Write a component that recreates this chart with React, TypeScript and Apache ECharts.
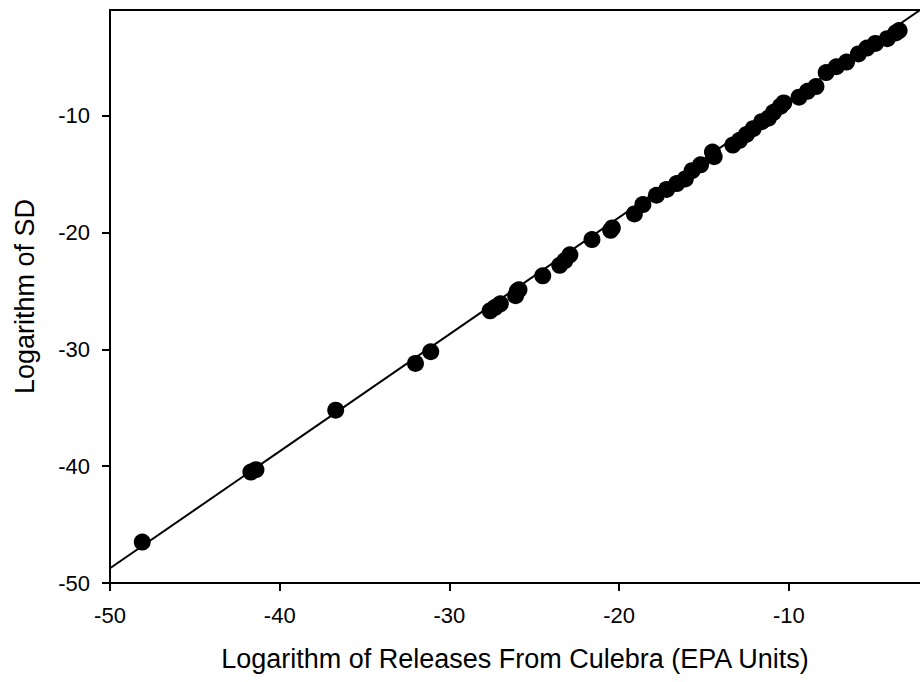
import React, { useEffect, useRef } from "react";
import * as echarts from "echarts";

const releasesLog: number[] = [
  -48.1, -41.7, -41.4, -36.7, -32.0, -31.1, -27.6, -27.3, -27.0, -26.1,
  -26.0, -25.9, -24.5, -23.5, -23.2, -22.9, -21.6, -20.5, -20.4, -19.1,
  -18.6, -17.8, -17.2, -16.6, -16.1, -15.7, -15.2, -14.5, -14.4, -13.3,
  -12.9, -12.5, -12.1, -11.6, -11.2, -10.9, -10.5, -10.3, -9.4, -8.9,
  -8.4, -7.8, -7.2, -6.6, -5.9, -5.4, -4.9, -4.2, -3.7, -3.5,
];
const sdLog: number[] = [
  -46.5, -40.5, -40.3, -35.2, -31.2, -30.2, -26.7, -26.4, -26.1, -25.4,
  -25.0, -24.9, -23.7, -22.8, -22.4, -21.9, -20.6, -19.8, -19.6, -18.4,
  -17.6, -16.8, -16.3, -15.8, -15.4, -14.7, -14.2, -13.1, -13.5, -12.5,
  -12.1, -11.6, -11.1, -10.5, -10.2, -9.7, -9.2, -8.9, -8.4, -7.9,
  -7.5, -6.3, -5.8, -5.4, -4.7, -4.2, -3.8, -3.4, -2.9, -2.7,
];
const fitX: number[] = [-50, -2.27];
const fitY: number[] = [-48.74, -0.94];
const xTicks: number[] = [-50, -40, -30, -20, -10];
const yTicks: number[] = [-50, -40, -30, -20, -10];
const xTitle = "Logarithm of Releases From Culebra (EPA Units)";
const yTitle = "Logarithm of SD";

const FONT = "'Liberation Sans', Arial, Helvetica, sans-serif";

export default function App() {
  const ref = useRef<HTMLDivElement>(null);
  useEffect(() => {
    if (!ref.current) return;
    const chart = echarts.init(ref.current, null, { renderer: "svg" });
    const points = releasesLog.map((x, i) => [x, sdLog[i]]);
    const fit = fitX.map((x, i) => [x, fitY[i]]);
    chart.setOption({
      animation: false,
      backgroundColor: "#ffffff",
      grid: { left: 110, right: 0, top: 10, bottom: 99, containLabel: false, outerBoundsMode: "none" },
      xAxis: [
        {
          type: "value",
          min: -50,
          max: -2.27,
          position: "bottom",
          name: xTitle,
          nameLocation: "middle",
          nameGap: 62,
          nameTextStyle: { fontFamily: FONT, fontSize: 27, color: "#000" },
          axisLine: { show: true, onZero: false, lineStyle: { color: "#000", width: 2 } },
          axisTick: { show: true, length: 8, customValues: xTicks, lineStyle: { color: "#000", width: 2 } },
          axisLabel: { customValues: xTicks, margin: 21, fontFamily: FONT, fontSize: 22, color: "#000" },
          splitLine: { show: false },
        },
        {
          type: "value",
          min: -50,
          max: -2.27,
          position: "top",
          axisLine: { show: true, onZero: false, lineStyle: { color: "#000", width: 2 } },
          axisTick: { show: false },
          axisLabel: { show: false },
          splitLine: { show: false },
        },
      ],
      yAxis: {
        type: "value",
        min: -50,
        max: -0.94,
        name: yTitle,
        nameLocation: "middle",
        nameGap: 72,
        nameTextStyle: { fontFamily: FONT, fontSize: 27, color: "#000" },
        axisLine: { show: true, onZero: false, lineStyle: { color: "#000", width: 2 } },
        axisTick: { show: true, length: 8, customValues: yTicks, lineStyle: { color: "#000", width: 2 } },
        axisLabel: { customValues: yTicks, margin: 20, fontFamily: FONT, fontSize: 22, color: "#000" },
        splitLine: { show: false },
      },
      series: [
        {
          type: "line",
          data: fit,
          showSymbol: false,
          symbol: "none",
          lineStyle: { color: "#000", width: 2 },
          z: 2,
        },
        {
          type: "scatter",
          data: points,
          symbol: "circle",
          symbolSize: 17,
          itemStyle: { color: "#000", opacity: 1 },
          z: 3,
        },
      ],
    });
    return () => chart.dispose();
  }, []);
  return (
    <div
      ref={ref}
      style={{ position: "fixed", left: 0, top: 0, width: 920, height: 682, background: "#fff" }}
    />
  );
}
